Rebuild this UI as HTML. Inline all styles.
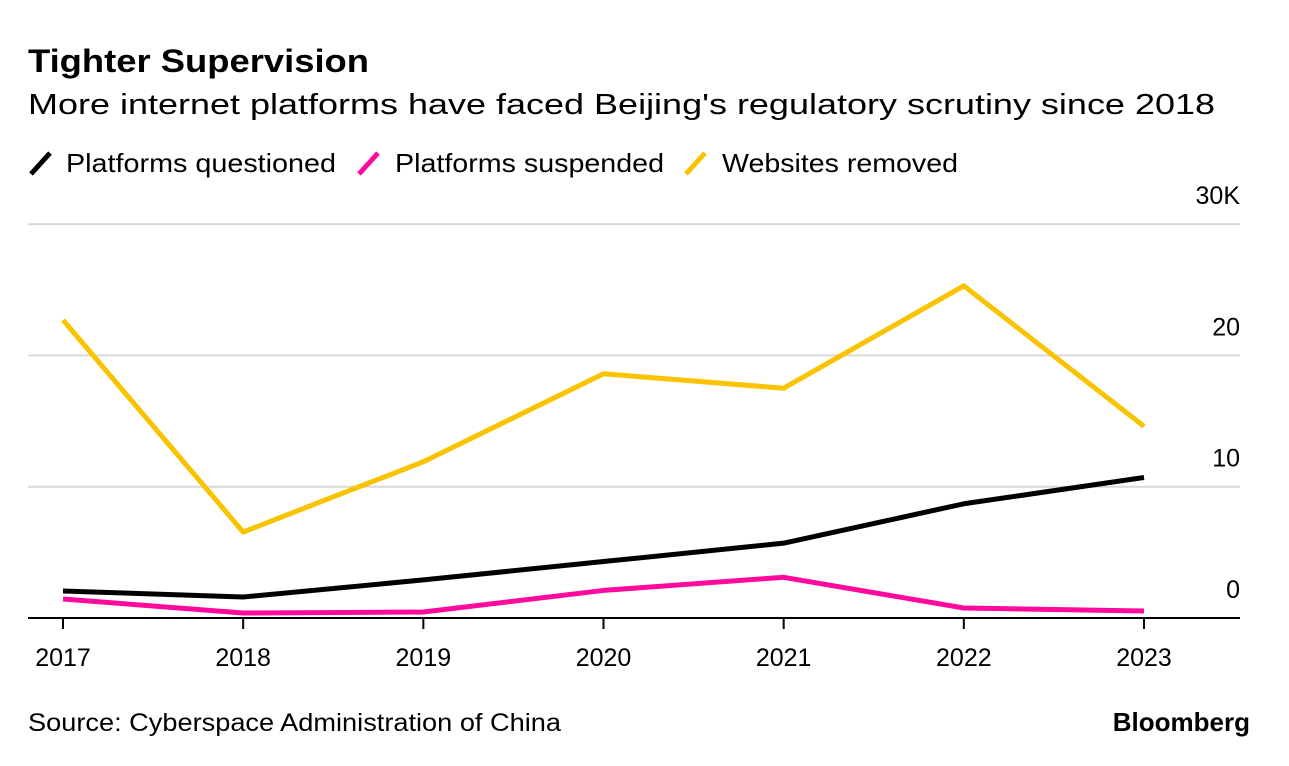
<!DOCTYPE html>
<html><head><meta charset="utf-8"><style>
body{margin:0;background:#fff;font-family:"Liberation Sans",Arial,sans-serif;}
svg{display:block}
</style></head><body>
<svg width="1289" height="766" id="chart">
<text x="28" y="72" font-size="32" font-weight="bold" fill="#000" textLength="341" lengthAdjust="spacingAndGlyphs">Tighter Supervision</text>
<text x="28" y="114" font-size="29" fill="#000" textLength="1187" lengthAdjust="spacingAndGlyphs">More internet platforms have faced Beijing's regulatory scrutiny since 2018</text>
<g>
<g><line x1="31" y1="174" x2="50" y2="153" stroke="#000" stroke-width="5"/><text x="66" y="172" font-size="26" textLength="270" lengthAdjust="spacingAndGlyphs">Platforms questioned</text></g>
<g><line x1="359" y1="174" x2="378" y2="153" stroke="#ff0a9c" stroke-width="5"/><text x="395" y="172" font-size="26" textLength="269" lengthAdjust="spacingAndGlyphs">Platforms suspended</text></g>
<g><line x1="686" y1="174" x2="705" y2="153" stroke="#f9c300" stroke-width="5"/><text x="722" y="172" font-size="26" textLength="236" lengthAdjust="spacingAndGlyphs">Websites removed</text></g>
</g>
<g id="grid"></g><g id="series"></g><g id="xaxis"></g>
<text x="28" y="731" font-size="25" fill="#000" textLength="533" lengthAdjust="spacingAndGlyphs">Source: Cyberspace Administration of China</text>
<text x="1250" y="731" font-size="26" font-weight="bold" text-anchor="end" fill="#000">Bloomberg</text>
</svg>
<script>
const years=["2017","2018","2019","2020","2021","2022","2023"];
const questioned=[2.06,1.6,2.9,4.3,5.7,8.7,10.7];
const suspended=[1.45,0.38,0.46,2.1,3.1,0.76,0.53];
const removed=[22.7,6.55,11.9,18.6,17.5,25.3,14.6];
const yTicks=[0,10,20,30];
const yTickLabels=["0","10","20","30K"];
const NS="http://www.w3.org/2000/svg";
function x(i){return 63+i*(1144-63)/(years.length-1);}
function y(v){return 618-v*13.13;}
function mk(t,a,p){const e=document.createElementNS(NS,t);for(const k in a)e.setAttribute(k,a[k]);p.appendChild(e);return e;}
const grid=document.getElementById('grid');
yTicks.forEach((v,i)=>{
 if(v>0){const l=mk('line',{x1:28,x2:1240,y1:y(v),y2:y(v),stroke:'#d9d9d9','stroke-width':2},grid);
 
 }
 const t=mk('text',{x:1240,y:y(v)-20,'font-size':25,'text-anchor':'end',fill:'#000'},grid);
 t.textContent=yTickLabels[i];
 
 
});
const xa=document.getElementById('xaxis');
const ax=mk('line',{x1:28,x2:1240,y1:618,y2:618,stroke:'#000','stroke-width':2},xa);


years.forEach((yr,i)=>{
 const tk=mk('line',{x1:x(i),x2:x(i),y1:618,y2:629,stroke:'#000','stroke-width':2},xa);
 
 
 const t=mk('text',{x:x(i),y:666,'font-size':25,'text-anchor':'middle',fill:'#000'},xa);
 t.textContent=yr;
 
 
});
const sg=document.getElementById('series');
[[removed,'#f9c300','line-websites-removed'],[suspended,'#ff0a9c','line-platforms-suspended'],[questioned,'#000','line-platforms-questioned']].forEach(([d,c,n])=>{
 const p=mk('polyline',{points:d.map((v,i)=>x(i)+','+y(v)).join(' '),fill:'none',stroke:c,'stroke-width':5,'stroke-linejoin':'round'},sg);
 
 
});
</script>
</body></html>
